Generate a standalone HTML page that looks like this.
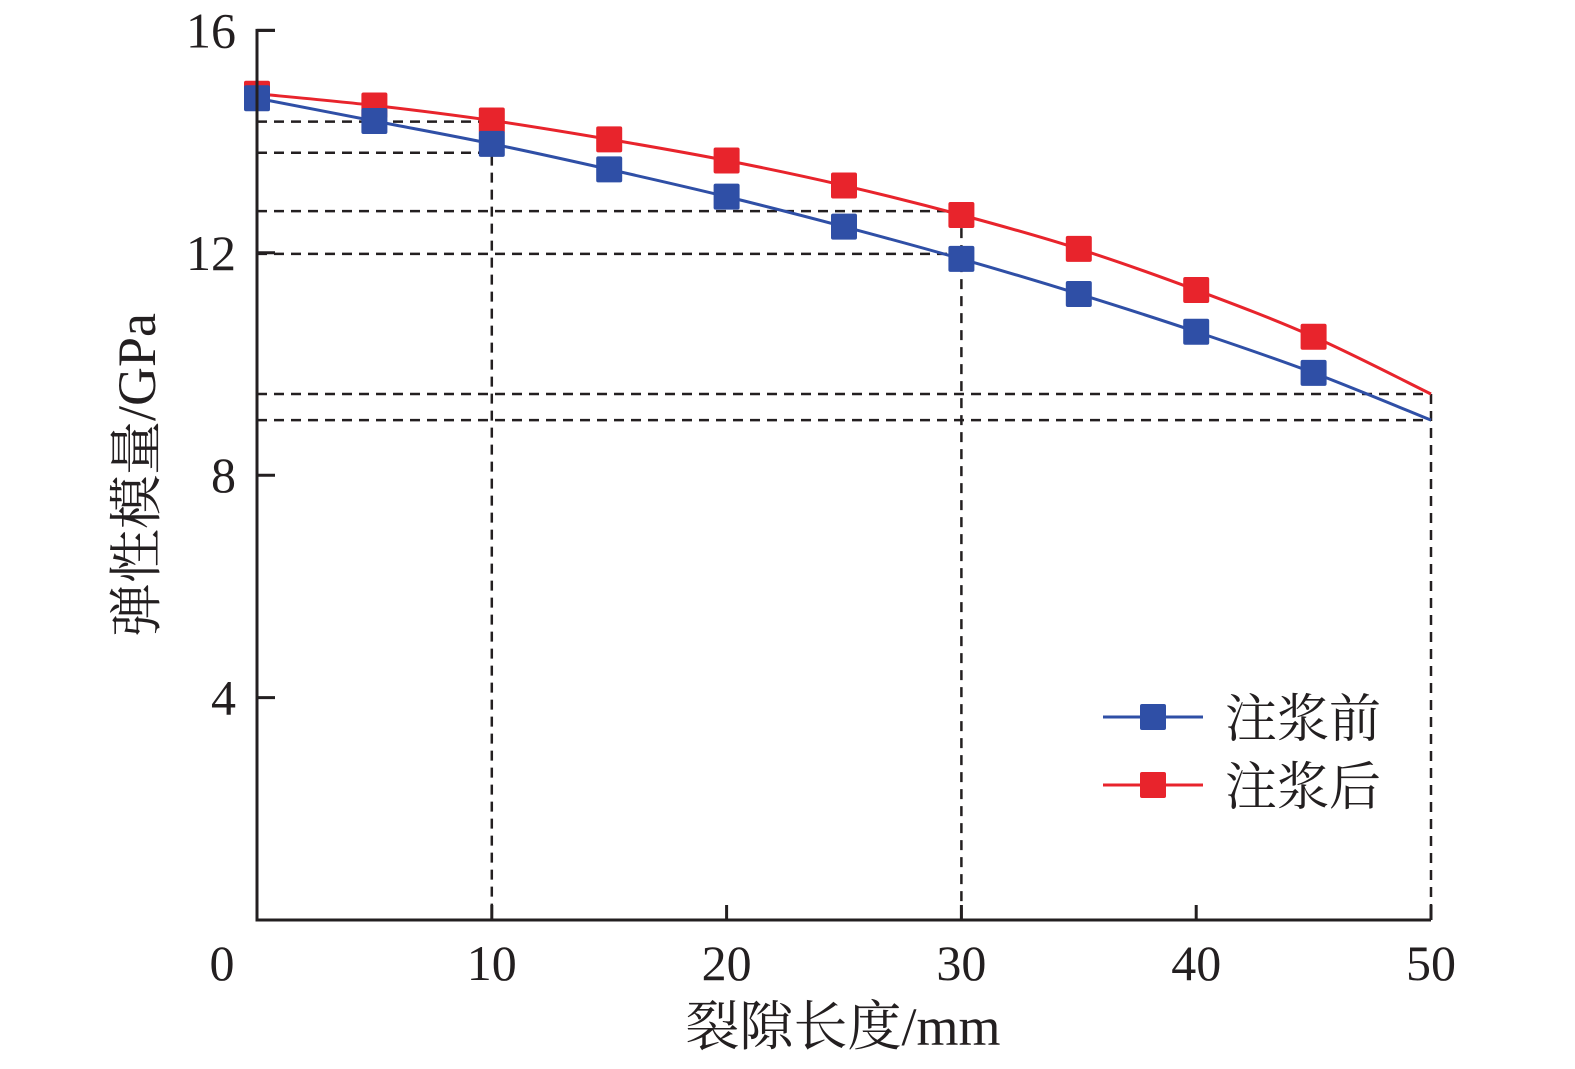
<!DOCTYPE html>
<html><head><meta charset="utf-8"><style>
html,body{margin:0;padding:0;background:#fff;overflow:hidden;width:1575px;height:1069px;}
svg{display:block;font-family:"Liberation Serif","Noto Serif CJK SC",serif;}
</style></head><body>
<svg id="chart" width="1575" height="1069" viewBox="0 0 1575 1069">
<g id="guides"></g>
<g id="series"></g>
<g id="axes"></g>
<g>
  <line x1="1103" y1="717" x2="1203" y2="717" stroke="#2f4fa6" stroke-width="3"/>
  <rect x="1140" y="704" width="26" height="26" rx="2" fill="#2f4fa6"/>
  <text x="1225" y="737" font-size="52" fill="#231f20">注浆前</text>
  <line x1="1103" y1="785" x2="1203" y2="785" stroke="#e8242c" stroke-width="3"/>
  <rect x="1140" y="772" width="26" height="26" rx="2" fill="#e8242c"/>
  <text x="1225" y="805" font-size="52" fill="#231f20">注浆后</text>
</g>
<text x="843" y="1045" font-size="54" text-anchor="middle" fill="#231f20">裂隙长度/mm</text>
<text transform="translate(155,475) rotate(-90)" font-size="54" text-anchor="middle" fill="#231f20">弹性模量/GPa</text>
</svg>
<script>
const xCats=[0,5,10,15,20,25,30,35,40,45];
const beforeVals=[14.78,14.37,13.96,13.5,13.01,12.47,11.89,11.26,10.58,9.84];
const afterVals=[14.86,14.65,14.38,14.04,13.66,13.21,12.68,12.07,11.33,10.49];
const beforeEnd=[50,8.99];
const afterEnd=[50,9.46];
const xTicks=[0,10,20,30,40,50];
const yTicks=[4,8,12,16];
const hGuides=[[14.36,10],[13.8,10],[12.75,30],[11.98,30],[9.46,50],[8.99,50]];
const vGuides=[[10,14.36],[30,12.75],[50,9.46]];
const X=v=>257+v*23.48;
const Y=v=>920-v*55.6;
const NS="http://www.w3.org/2000/svg";
function mk(t,a,p){const e=document.createElementNS(NS,t);for(const k in a)e.setAttribute(k,a[k]);p.appendChild(e);return e;}
const G=document.getElementById('guides');
hGuides.forEach(g=>{const l=mk('line',{x1:X(0),y1:Y(g[0]),x2:X(g[1]),y2:Y(g[0]),stroke:'#231f20','stroke-width':2.5,'stroke-dasharray':'10 7'},G);

});
vGuides.forEach(g=>{const l=mk('line',{x1:X(g[0]),y1:Y(g[1]),x2:X(g[0]),y2:Y(0),stroke:'#231f20','stroke-width':2.5,'stroke-dasharray':'10 7'},G);

});
const S=document.getElementById('series');
function curve(vals,end,color,name){
  const pts=xCats.map((x,i)=>[X(x),Y(vals[i])]);pts.push([X(end[0]),Y(end[1])]);
  let d='M'+pts[0][0]+','+pts[0][1];
  for(let i=0;i<pts.length-1;i++){const p0=pts[Math.max(0,i-1)],p1=pts[i],p2=pts[i+1],p3=pts[Math.min(pts.length-1,i+2)];
    d+=' C'+(p1[0]+(p2[0]-p0[0])/6)+','+(p1[1]+(p2[1]-p0[1])/6)+' '+(p2[0]-(p3[0]-p1[0])/6)+','+(p2[1]-(p3[1]-p1[1])/6)+' '+p2[0]+','+p2[1];}
  const p=mk('path',{d:d,fill:'none',stroke:color,'stroke-width':3},S);
  
  
  xCats.forEach((x,i)=>{const r=mk('rect',{x:X(x)-13,y:Y(vals[i])-13,width:26,height:26,rx:2,fill:color},S);
    
    });
}
curve(afterVals,afterEnd,'#e8242c','after-grouting');
curve(beforeVals,beforeEnd,'#2f4fa6','before-grouting');
const A=document.getElementById('axes');
mk('path',{d:`M${X(0)+18},${Y(16)} H${X(0)} V${Y(0)} H${X(50)} V${Y(0)-0}`,fill:'none',stroke:'#231f20','stroke-width':3},A);
yTicks.forEach(v=>{mk('line',{x1:X(0),y1:Y(v),x2:X(0)+18,y2:Y(v),stroke:'#231f20','stroke-width':3},A);
  const t=mk('text',{x:236,y:Y(v)+17,'font-size':50,'text-anchor':'end',fill:'#231f20'},A);t.textContent=v;
  
  });
xTicks.forEach(v=>{mk('line',{x1:X(v),y1:Y(0),x2:X(v),y2:Y(0)-15,stroke:'#231f20','stroke-width':3},A);
  const t=mk('text',{x:v===0?222:X(v),y:980,'font-size':50,'text-anchor':'middle',fill:'#231f20'},A);t.textContent=v;
  
  });
</script>
</body></html>
